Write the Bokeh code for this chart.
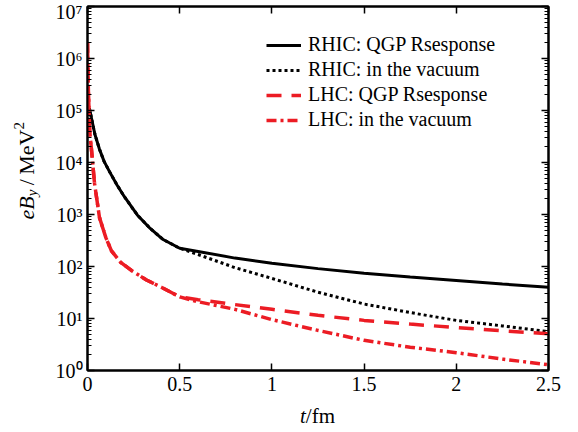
from bokeh.plotting import figure
from bokeh.layouts import row, column
from bokeh.models import (LinearAxis, LogAxis, FixedTicker, LogTicker, CustomJSTickFormatter,
                          Range1d, Div)
from bokeh.embed import file_html
from bokeh.resources import INLINE

# ---- data ----
t_rhic_qgp = [0.01, 0.02, 0.04, 0.065, 0.09, 0.12, 0.16, 0.2, 0.27, 0.34, 0.41, 0.5,
              0.6, 0.8, 1.0, 1.25, 1.5, 1.75, 2.0, 2.25, 2.5]
b_rhic_qgp = [1.1e5, 7.6e4, 3.5e4, 1.8e4, 1.05e4, 6.6e3, 3.7e3, 2.2e3, 980, 540, 330, 224,
              195, 145, 115, 91, 74, 63, 54, 46, 40]

t_rhic_vac = [0.01, 0.02, 0.04, 0.065, 0.09, 0.12, 0.16, 0.2, 0.27, 0.34, 0.41, 0.5,
              0.6, 0.8, 1.0, 1.25, 1.5, 1.75, 2.0, 2.25, 2.5]
b_rhic_vac = [1.1e5, 7.6e4, 3.5e4, 1.8e4, 1.05e4, 6.6e3, 3.7e3, 2.2e3, 980, 540, 330, 224,
              170, 95, 59, 32, 19, 13, 9.2, 7.2, 5.6]

t_lhc_qgp = [0.0, 0.004, 0.008, 0.012, 0.022, 0.038, 0.065, 0.1, 0.13, 0.18, 0.24, 0.32, 0.4, 0.5,
             0.6, 0.8, 1.0, 1.25, 1.5, 1.75, 2.0, 2.25, 2.5]
b_lhc_qgp = [2.0e6, 3.2e5, 1.0e5, 4.0e4, 1.7e4, 4.0e3, 870, 355, 200, 120, 83, 55, 40, 26,
             23, 18.5, 15, 11.5, 9.2, 7.8, 6.7, 5.8, 5.1]

t_lhc_vac = [0.0, 0.004, 0.008, 0.012, 0.022, 0.038, 0.065, 0.1, 0.13, 0.18, 0.24, 0.32, 0.4, 0.5,
             0.6, 0.8, 1.0, 1.25, 1.5, 1.75, 2.0, 2.25, 2.5]
b_lhc_vac = [2.0e6, 3.2e5, 1.0e5, 4.0e4, 1.7e4, 4.0e3, 870, 355, 200, 120, 83, 55, 40, 26,
             21, 15, 9.5, 5.9, 3.8, 2.8, 2.2, 1.66, 1.29]

x_ticks = [0, 0.5, 1, 1.5, 2, 2.5]

labels = ["RHIC: QGP Rsesponse", "RHIC: in the vacuum",
          "LHC: QGP Rsesponse", "LHC: in the vacuum"]

FONT = "Liberation Serif"
RED = "#ec1c24"

p = figure(width=522, height=400, y_axis_type="log",
           x_range=Range1d(0, 2.5), y_range=Range1d(1, 1e7),
           output_backend="svg", toolbar_location=None,
           min_border_left=39, min_border_right=22, min_border_top=6, min_border_bottom=30)

p.grid.visible = False
p.outline_line_color = "black"
p.outline_line_width = 2
p.background_fill_color = "white"
p.border_fill_color = "white"

p.line(t_rhic_qgp, b_rhic_qgp, line_color="black", line_width=3, legend_label=labels[0])
p.line(t_rhic_vac, b_rhic_vac, line_color="black", line_width=3, line_dash="3 3",
       legend_label=labels[1])
p.line(t_lhc_qgp, b_lhc_qgp, line_color=RED, line_width=3.5, line_dash="15 10",
       legend_label=labels[2])
p.line(t_lhc_vac, b_lhc_vac, line_color=RED, line_width=3.5, line_dash="10 4 3 4",
       legend_label=labels[3])

sup_fmt = CustomJSTickFormatter(code="""
const sup = ["\u2070","\u00b9","\u00b2","\u00b3","\u2074","\u2075","\u2076","\u2077","\u2078","\u2079"];
const n = Math.round(Math.log10(tick));
return "10" + sup[n];
""")
num_fmt = CustomJSTickFormatter(code="return tick.toString();")

def style_axis(ax, minor=True):
    ax.axis_line_color = "black"
    ax.axis_line_width = 2
    ax.major_tick_in = 7
    ax.major_tick_out = 0
    ax.major_tick_line_width = 1.5
    ax.minor_tick_in = 4 if minor else 0
    ax.minor_tick_out = 0
    ax.minor_tick_line_width = 1
    ax.major_label_text_font = FONT
    ax.major_label_text_font_size = "20px"
    ax.major_label_text_color = "black"

# bottom x axis
xa = p.xaxis[0]
xa.ticker = FixedTicker(ticks=x_ticks)
xa.formatter = num_fmt
style_axis(xa, minor=False)
xa.major_label_standoff = 6

# left y axis
ya = p.yaxis[0]
ya.ticker = LogTicker(num_minor_ticks=10)
ya.formatter = sup_fmt
style_axis(ya)
ya.major_label_standoff = 5

# top / right axes (ticks only, labels not drawn)
top = LinearAxis(ticker=FixedTicker(ticks=x_ticks))
style_axis(top, minor=False)
top.major_label_text_color = None
top.major_label_text_font_size = "2px"
top.major_label_standoff = 0
p.add_layout(top, "above")

right = LogAxis(ticker=LogTicker(num_minor_ticks=10))
style_axis(right)
right.major_label_text_color = None
right.major_label_text_font_size = "2px"
right.major_label_standoff = 0
p.add_layout(right, "right")

# legend
lg = p.legend[0]
lg.location = (179, 239)
lg.padding = 0
lg.margin = 0
lg.spacing = 2
lg.border_line_color = None
lg.background_fill_alpha = 0
lg.glyph_width = 35
lg.glyph_height = 22
lg.label_height = 22
lg.label_standoff = 7
lg.label_text_font = FONT
lg.label_text_font_size = "20px"
lg.label_text_color = "black"

# axis titles as real HTML text (italic variables, sub/superscripts)
ylab_html = (
    '<div style="margin-left:16px;margin-top:122px;display:inline-block;'
    'writing-mode:vertical-rl;transform:rotate(180deg);font-family:\'Liberation Serif\';'
    'font-size:22px;line-height:22px;white-space:nowrap;color:black">'
    '<i>eB</i><sub style="font-size:15px;line-height:0"><i>y</i></sub>'
    '&thinsp;/&thinsp;MeV<sup style="font-size:15px;line-height:0">2</sup></div>'
)
xlab_html = (
    '<div style="padding-left:252px;padding-top:5px;font-family:\'Liberation Serif\';'
    'font-size:21px;line-height:22px;white-space:nowrap;color:black"><i>t</i>/fm</div>'
)
ydiv = Div(text=ylab_html, width=48, height=424, margin=0)
xdiv = Div(text=xlab_html, width=522, height=30, margin=0)

layout = row(ydiv, column(p, xdiv, spacing=0), spacing=0)

open("out.html", "w").write(file_html(layout, INLINE))
